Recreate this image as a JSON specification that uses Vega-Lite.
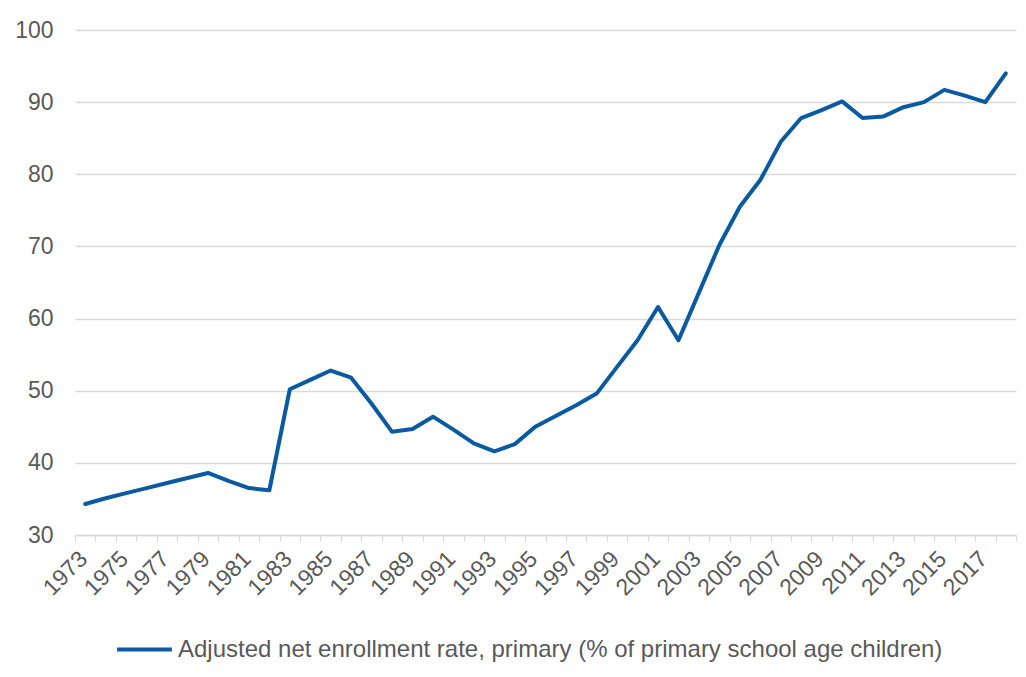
{
  "$schema": "https://vega.github.io/schema/vega-lite/v6.json",
  "autosize": "none",
  "width": 941,
  "height": 505,
  "padding": {"left": 75, "top": 30, "right": 10, "bottom": 142},
  "background": "white",
  "config": {
    "view": {"stroke": null},
    "font": "Liberation Sans",
    "axis": {"labelFont": "Liberation Sans", "labelColor": "#595959"},
    "legend": {"labelFont": "Liberation Sans", "labelColor": "#595959"}
  },
  "data": {
    "values": [
      {"year": 1973, "value": 34.3, "series": "Adjusted net enrollment rate, primary (% of primary school age children)"},
      {"year": 1974, "value": 35.1, "series": "Adjusted net enrollment rate, primary (% of primary school age children)"},
      {"year": 1975, "value": 35.8, "series": "Adjusted net enrollment rate, primary (% of primary school age children)"},
      {"year": 1976, "value": 36.5, "series": "Adjusted net enrollment rate, primary (% of primary school age children)"},
      {"year": 1977, "value": 37.2, "series": "Adjusted net enrollment rate, primary (% of primary school age children)"},
      {"year": 1978, "value": 37.9, "series": "Adjusted net enrollment rate, primary (% of primary school age children)"},
      {"year": 1979, "value": 38.6, "series": "Adjusted net enrollment rate, primary (% of primary school age children)"},
      {"year": 1980, "value": 37.5, "series": "Adjusted net enrollment rate, primary (% of primary school age children)"},
      {"year": 1981, "value": 36.5, "series": "Adjusted net enrollment rate, primary (% of primary school age children)"},
      {"year": 1982, "value": 36.2, "series": "Adjusted net enrollment rate, primary (% of primary school age children)"},
      {"year": 1983, "value": 50.2, "series": "Adjusted net enrollment rate, primary (% of primary school age children)"},
      {"year": 1984, "value": 51.5, "series": "Adjusted net enrollment rate, primary (% of primary school age children)"},
      {"year": 1985, "value": 52.8, "series": "Adjusted net enrollment rate, primary (% of primary school age children)"},
      {"year": 1986, "value": 51.8, "series": "Adjusted net enrollment rate, primary (% of primary school age children)"},
      {"year": 1987, "value": 48.2, "series": "Adjusted net enrollment rate, primary (% of primary school age children)"},
      {"year": 1988, "value": 44.3, "series": "Adjusted net enrollment rate, primary (% of primary school age children)"},
      {"year": 1989, "value": 44.7, "series": "Adjusted net enrollment rate, primary (% of primary school age children)"},
      {"year": 1990, "value": 46.4, "series": "Adjusted net enrollment rate, primary (% of primary school age children)"},
      {"year": 1991, "value": 44.6, "series": "Adjusted net enrollment rate, primary (% of primary school age children)"},
      {"year": 1992, "value": 42.7, "series": "Adjusted net enrollment rate, primary (% of primary school age children)"},
      {"year": 1993, "value": 41.6, "series": "Adjusted net enrollment rate, primary (% of primary school age children)"},
      {"year": 1994, "value": 42.6, "series": "Adjusted net enrollment rate, primary (% of primary school age children)"},
      {"year": 1995, "value": 45.0, "series": "Adjusted net enrollment rate, primary (% of primary school age children)"},
      {"year": 1996, "value": 46.5, "series": "Adjusted net enrollment rate, primary (% of primary school age children)"},
      {"year": 1997, "value": 48.0, "series": "Adjusted net enrollment rate, primary (% of primary school age children)"},
      {"year": 1998, "value": 49.6, "series": "Adjusted net enrollment rate, primary (% of primary school age children)"},
      {"year": 1999, "value": 53.3, "series": "Adjusted net enrollment rate, primary (% of primary school age children)"},
      {"year": 2000, "value": 57.0, "series": "Adjusted net enrollment rate, primary (% of primary school age children)"},
      {"year": 2001, "value": 61.6, "series": "Adjusted net enrollment rate, primary (% of primary school age children)"},
      {"year": 2002, "value": 57.0, "series": "Adjusted net enrollment rate, primary (% of primary school age children)"},
      {"year": 2003, "value": 63.6, "series": "Adjusted net enrollment rate, primary (% of primary school age children)"},
      {"year": 2004, "value": 70.2, "series": "Adjusted net enrollment rate, primary (% of primary school age children)"},
      {"year": 2005, "value": 75.5, "series": "Adjusted net enrollment rate, primary (% of primary school age children)"},
      {"year": 2006, "value": 79.2, "series": "Adjusted net enrollment rate, primary (% of primary school age children)"},
      {"year": 2007, "value": 84.5, "series": "Adjusted net enrollment rate, primary (% of primary school age children)"},
      {"year": 2008, "value": 87.8, "series": "Adjusted net enrollment rate, primary (% of primary school age children)"},
      {"year": 2009, "value": 88.9, "series": "Adjusted net enrollment rate, primary (% of primary school age children)"},
      {"year": 2010, "value": 90.1, "series": "Adjusted net enrollment rate, primary (% of primary school age children)"},
      {"year": 2011, "value": 87.8, "series": "Adjusted net enrollment rate, primary (% of primary school age children)"},
      {"year": 2012, "value": 88.0, "series": "Adjusted net enrollment rate, primary (% of primary school age children)"},
      {"year": 2013, "value": 89.3, "series": "Adjusted net enrollment rate, primary (% of primary school age children)"},
      {"year": 2014, "value": 90.0, "series": "Adjusted net enrollment rate, primary (% of primary school age children)"},
      {"year": 2015, "value": 91.7, "series": "Adjusted net enrollment rate, primary (% of primary school age children)"},
      {"year": 2016, "value": 90.9, "series": "Adjusted net enrollment rate, primary (% of primary school age children)"},
      {"year": 2017, "value": 90.0, "series": "Adjusted net enrollment rate, primary (% of primary school age children)"},
      {"year": 2018, "value": 94.0, "series": "Adjusted net enrollment rate, primary (% of primary school age children)"}
    ]
  },
  "mark": {"type": "line", "strokeWidth": 4, "strokeJoin": "round", "strokeCap": "round"},
  "encoding": {
    "x": {
      "field": "year",
      "type": "ordinal",
      "bandPosition": 0.5,
      "scale": {"type": "band", "paddingInner": 0, "paddingOuter": 0},
      "axis": {
        "title": null,
        "tickBand": "extent",
        "labelExpr": "datum.value % 2 == 1 ? datum.label : ''",
        "labelAngle": -45,
        "labelAlign": "right",
        "labelBaseline": "middle",
        "labelFontSize": 23,
        "labelPadding": 14,
        "labelOffset": -2,
        "labelOverlap": false,
        "domainColor": "#d9d9d9",
        "domainWidth": 1.5,
        "tickColor": "#d9d9d9",
        "tickWidth": 1.3,
        "tickSize": 6,
        "grid": false
      }
    },
    "y": {
      "field": "value",
      "type": "quantitative",
      "scale": {"domain": [30, 100], "nice": false, "zero": false},
      "axis": {
        "title": null,
        "values": [30, 40, 50, 60, 70, 80, 90, 100],
        "domain": false,
        "ticks": false,
        "labelFontSize": 23,
        "labelPadding": 22,
        "gridColor": "#d9d9d9",
        "gridWidth": 1.3
      }
    },
    "color": {
      "field": "series",
      "type": "nominal",
      "scale": {"range": ["#0a5aa2"]},
      "legend": {
        "title": null,
        "orient": "none",
        "legendX": 40,
        "legendY": 590,
        "direction": "horizontal",
        "symbolType": "stroke",
        "symbolSize": 3000,
        "symbolStrokeWidth": 4,
        "labelFontSize": 24,
        "labelOffset": 4,
        "labelLimit": 1000
      }
    }
  }
}
